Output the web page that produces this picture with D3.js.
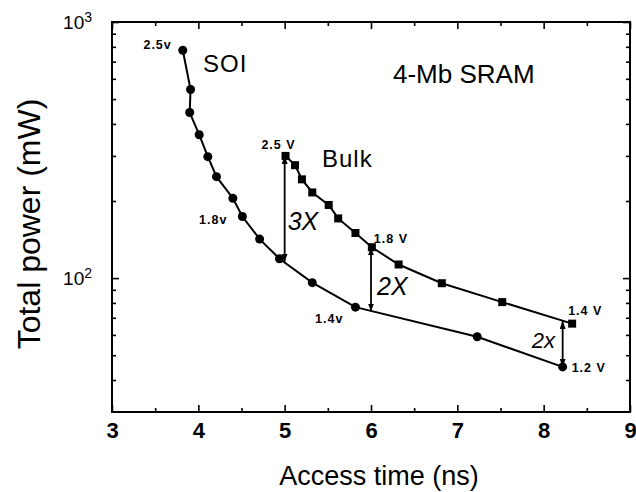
<!DOCTYPE html>
<html>
<head>
<meta charset="utf-8">
<script src="https://cdn.jsdelivr.net/npm/d3@7"></script>
<style>
  body { margin: 0; background: #fff; }
  text { font-family: "Liberation Sans", Arial, sans-serif; fill: #000; }
</style>
</head>
<body>
<div id="chart"></div>
<script>
// data (access time in ns, total power in mW)
var soiTime  = [3.82, 3.91, 3.90, 4.01, 4.11, 4.21, 4.40, 4.51, 4.71, 4.94, 5.32, 5.82, 7.23, 8.22];
var soiPower = [776, 545, 443, 363, 298, 249, 205, 174, 142, 119, 96, 77, 59, 45];

var bulkTime  = [5.01, 5.12, 5.20, 5.32, 5.51, 5.62, 5.82, 6.01, 6.32, 6.82, 7.52, 8.33];
var bulkPower = [300, 276, 243, 216, 193, 171, 150, 132, 113, 95.5, 80.6, 66.4];

// power ratio arrows
var arrowTime  = [5.0, 6.0, 8.22];
var arrowHigh  = [300, 132, 68];
var arrowLow   = [116, 74, 45];
var arrowText  = ["3X", "2X", "2x"];

// supply voltage labels: which point they belong to
var soiVolts  = [{ i: 0, text: "2.5v" }, { i: 7, text: "1.8v" }, { i: 11, text: "1.4v" }, { i: 13, text: "1.2 V" }];
var bulkVolts = [{ i: 0, text: "2.5 V" }, { i: 7, text: "1.8 V" }, { i: 11, text: "1.4 V" }];

var xTicks = [3, 4, 5, 6, 7, 8, 9];
var xMinorTicks = [3.5, 4.5, 5.5, 6.5, 7.5, 8.5];
var yTicks = [100, 1000];
var yMinorTicks = [40, 50, 60, 70, 80, 90, 200, 300, 400, 500, 600, 700, 800, 900];

var svgWidth = 636;
var svgHeight = 492;
var margin = { top: 22, right: 6, bottom: 80, left: 112 };
var chartWidth = svgWidth - margin.left - margin.right;
var chartHeight = svgHeight - margin.top - margin.bottom;

var svg = d3.select("#chart")
    .append("svg")
    .attr("width", svgWidth)
    .attr("height", svgHeight);

var defs = svg.append("defs");
defs.append("marker")
    .attr("id", "head")
    .attr("viewBox", "0 0 8 6")
    .attr("refX", 8)
    .attr("refY", 3)
    .attr("markerWidth", 8)
    .attr("markerHeight", 6)
    .attr("markerUnits", "userSpaceOnUse")
    .attr("orient", "auto-start-reverse")
    .append("path")
    .attr("d", "M0,0 L8,3 L0,6 Z")
    .attr("fill", "#000");

var chartGroup = svg.append("g")
    .attr("transform", `translate(${margin.left}, ${margin.top})`);

var xScale = d3.scaleLinear().domain([3, 9]).range([0, chartWidth]);
var yScale = d3.scaleLog().domain([30, 1000]).range([chartHeight, 0]);

// frame
chartGroup.append("rect")
    .attr("width", chartWidth)
    .attr("height", chartHeight)
    .attr("fill", "none")
    .attr("stroke", "#000")
    .attr("stroke-width", 2);

function styleAxis(g) {
    g.select(".domain").remove();
    g.selectAll(".tick line").attr("stroke-width", 1.6);
    g.attr("font-family", null);
}

// bottom axis
chartGroup.append("g")
    .attr("transform", `translate(0, ${chartHeight})`)
    .call(d3.axisBottom(xScale).tickValues(xTicks).tickSizeInner(-7).tickSizeOuter(0).tickPadding(10).tickFormat(d3.format("d")))
    .call(styleAxis)
    .attr("font-size", 22)
    .attr("font-weight", "bold");
chartGroup.append("g")
    .attr("transform", `translate(0, ${chartHeight})`)
    .call(d3.axisBottom(xScale).tickValues(xMinorTicks).tickSizeInner(-4).tickSizeOuter(0).tickFormat(""))
    .call(styleAxis);

// top axis
chartGroup.append("g")
    .call(d3.axisTop(xScale).tickValues(xTicks).tickSizeInner(-7).tickSizeOuter(0).tickFormat(""))
    .call(styleAxis);
chartGroup.append("g")
    .call(d3.axisTop(xScale).tickValues(xMinorTicks).tickSizeInner(-4).tickSizeOuter(0).tickFormat(""))
    .call(styleAxis);

// left axis
var leftAxis = chartGroup.append("g")
    .call(d3.axisLeft(yScale).tickValues(yTicks).tickSizeInner(-7).tickSizeOuter(0).tickPadding(20).tickFormat(""))
    .call(styleAxis)
    .attr("font-size", 19);
leftAxis.selectAll(".tick text").each(function(d) {
    var t = d3.select(this);
    t.append("tspan").text("10");
    t.append("tspan")
        .attr("dy", "-0.45em")
        .attr("font-size", 14)
        .text(Math.round(Math.log10(d)));
});
chartGroup.append("g")
    .call(d3.axisLeft(yScale).tickValues(yMinorTicks).tickSizeInner(-4).tickSizeOuter(0).tickFormat(""))
    .call(styleAxis);

// right axis
chartGroup.append("g")
    .attr("transform", `translate(${chartWidth}, 0)`)
    .call(d3.axisRight(yScale).tickValues(yTicks).tickSizeInner(-7).tickSizeOuter(0).tickFormat(""))
    .call(styleAxis);
chartGroup.append("g")
    .attr("transform", `translate(${chartWidth}, 0)`)
    .call(d3.axisRight(yScale).tickValues(yMinorTicks).tickSizeInner(-4).tickSizeOuter(0).tickFormat(""))
    .call(styleAxis);

var soiData = soiTime.map((t, i) => ({ t: t, p: soiPower[i] }));
var bulkData = bulkTime.map((t, i) => ({ t: t, p: bulkPower[i] }));

var line = d3.line()
    .x(d => xScale(d.t))
    .y(d => yScale(d.p));

chartGroup.append("path")
    .datum(soiData)
    .attr("d", line)
    .attr("fill", "none")
    .attr("stroke", "#000")
    .attr("stroke-width", 2);

chartGroup.append("path")
    .datum(bulkData)
    .attr("d", line)
    .attr("fill", "none")
    .attr("stroke", "#000")
    .attr("stroke-width", 2);

// arrows between the two curves
var arrowData = arrowTime.map((t, i) => ({ t: t, hi: arrowHigh[i], lo: arrowLow[i], text: arrowText[i] }));
chartGroup.selectAll(".ratio")
    .data(arrowData)
    .enter()
    .append("line")
    .attr("class", "ratio")
    .attr("x1", d => xScale(d.t))
    .attr("x2", d => xScale(d.t))
    .attr("y1", d => yScale(d.hi))
    .attr("y2", d => yScale(d.lo))
    .attr("stroke", "#000")
    .attr("stroke-width", 1.8)
    .attr("marker-start", "url(#head)")
    .attr("marker-end", "url(#head)");

// markers
chartGroup.selectAll(".soi")
    .data(soiData)
    .enter()
    .append("circle")
    .attr("class", "soi")
    .attr("cx", d => xScale(d.t))
    .attr("cy", d => yScale(d.p))
    .attr("r", 4.5)
    .attr("fill", "#000");

chartGroup.selectAll(".bulk")
    .data(bulkData)
    .enter()
    .append("rect")
    .attr("class", "bulk")
    .attr("x", d => xScale(d.t) - 4)
    .attr("y", d => yScale(d.p) - 4)
    .attr("width", 8)
    .attr("height", 8)
    .attr("fill", "#000");

// voltage labels, offsets from their points
var soiOffsets = [[-11, -1, "end"], [-15, 8, "end"], [-12, 16, "end"], [9, 5, "start"]];
var bulkOffsets = [[-7, -7, "middle"], [2, -4, "start"], [-4, -9, "start"]];

function voltLabel(list, data, offsets) {
    list.forEach(function(v, k) {
        var pt = data[v.i];
        chartGroup.append("text")
            .attr("x", xScale(pt.t) + offsets[k][0])
            .attr("y", yScale(pt.p) + offsets[k][1])
            .attr("text-anchor", offsets[k][2])
            .attr("font-size", 12.5)
            .attr("font-weight", "bold")
            .attr("letter-spacing", 1)
            .text(v.text);
    });
}
voltLabel(soiVolts, soiData, soiOffsets);
voltLabel(bulkVolts, bulkData, bulkOffsets);

// ratio labels
var ratioOffsets = [[3, 230], [6, 295], [-31, 348]];
var ratioSizes = [25, 25, 22];
arrowData.forEach(function(d, k) {
    chartGroup.append("text")
        .attr("x", xScale(d.t) + ratioOffsets[k][0])
        .attr("y", ratioOffsets[k][1] - margin.top)
        .attr("font-size", ratioSizes[k])
        .attr("font-style", "italic")
        .text(d.text);
});

// series and figure labels
chartGroup.append("text")
    .attr("x", 91).attr("y", 50)
    .attr("font-size", 24)
    .attr("letter-spacing", 1)
    .text("SOI");
chartGroup.append("text")
    .attr("x", 210).attr("y", 145)
    .attr("font-size", 24)
    .attr("letter-spacing", 1)
    .text("Bulk");
chartGroup.append("text")
    .attr("x", 281).attr("y", 61)
    .attr("font-size", 26)
    .text("4-Mb SRAM");

// axis titles
svg.append("text")
    .attr("x", 379)
    .attr("y", 485)
    .attr("text-anchor", "middle")
    .attr("font-size", 27)
    .text("Access time (ns)");
svg.append("text")
    .attr("transform", "translate(40, 224) rotate(-90)")
    .attr("text-anchor", "middle")
    .attr("font-size", 32)
    .text("Total power (mW)");
</script>
</body>
</html>
